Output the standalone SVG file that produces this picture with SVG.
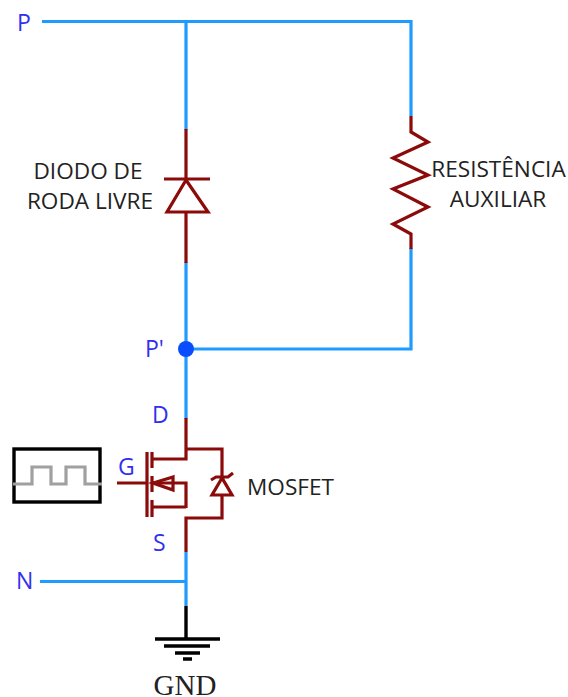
<svg xmlns="http://www.w3.org/2000/svg" width="568" height="697" viewBox="0 0 568 697">
<style>
.w{fill:none;stroke:#1e9bff;stroke-width:3.2}
.r{fill:none;stroke:#8b0a0a;stroke-width:3.2}
.k{fill:none;stroke:#000;stroke-width:3.4}
.b{font:23px "Open Sans","Liberation Sans",sans-serif;fill:#3030f0}
.l{font:22.6px "Open Sans","Liberation Sans",sans-serif;fill:#222}
</style>
<rect width="568" height="697" fill="#fff"/>
<g id="connectors">
<path class="w" d="M42 21.5H411V116M186 21V130M186 262V419M186 349H411V248M186 552V606M40 581.5H186"/>
</g>
<g id="diode">
<path class="r" d="M186 129V180M186 212V263M164 179H210"/>
<path class="r" stroke-width="3" d="M186 180L167 212H208Z"/>
</g>
<g id="resistor">
<path class="r" d="M411 116V132L428 142L393 158L428 175L393 189L428 207L393 224L411 234V249"/>
</g>
<g id="mosfet">
<path class="r" d="M186 418V459H152M186 449H222V477M222 495V518H186V552M186 508V483H152M186 507H152M117 483H147M147 452V517M152 452V468M152 476V492M152 500V517"/>
<path class="r" d="M222 478L212 495H232ZM211 480L216 477H228L233 473"/>
<path class="r" d="M173 477L153 483L173 490Z"/>
</g>
<g id="source">
<rect class="k" x="14" y="449" width="86" height="53"/>
<path fill="none" stroke="#a0a0a0" stroke-width="3.2" d="M13 484H32V467H51V484H66V467H85V484H102"/>
</g>
<g id="ground">
<path class="k" d="M186 606V639"/>
<path class="k" d="M155 639H220M164 646H210M175 653H200M183 659H192"/>
</g>
<g id="pnode"><circle cx="186" cy="349" r="8" fill="#0a4dff"/></g>
<g id="labels">
<text class="b" x="17" y="31">P</text>
<text class="b" x="145" y="357">P'</text>
<text class="b" x="152" y="423">D</text>
<text class="b" x="118" y="475">G</text>
<text class="b" x="153" y="551">S</text>
<text class="b" x="16" y="589">N</text>
<text class="l" x="88" y="179" text-anchor="middle">DIODO DE</text>
<text class="l" x="90" y="209" text-anchor="middle">RODA LIVRE</text>
<text class="l" x="498.5" y="177" text-anchor="middle">RESISTÊNCIA</text>
<text class="l" x="498" y="207" text-anchor="middle">AUXILIAR</text>
<text class="l" x="247" y="495">MOSFET</text>
<text x="185" y="695" text-anchor="middle" font-family="Liberation Serif,serif" font-size="29" fill="#222">GND</text>
</g>
</svg>
